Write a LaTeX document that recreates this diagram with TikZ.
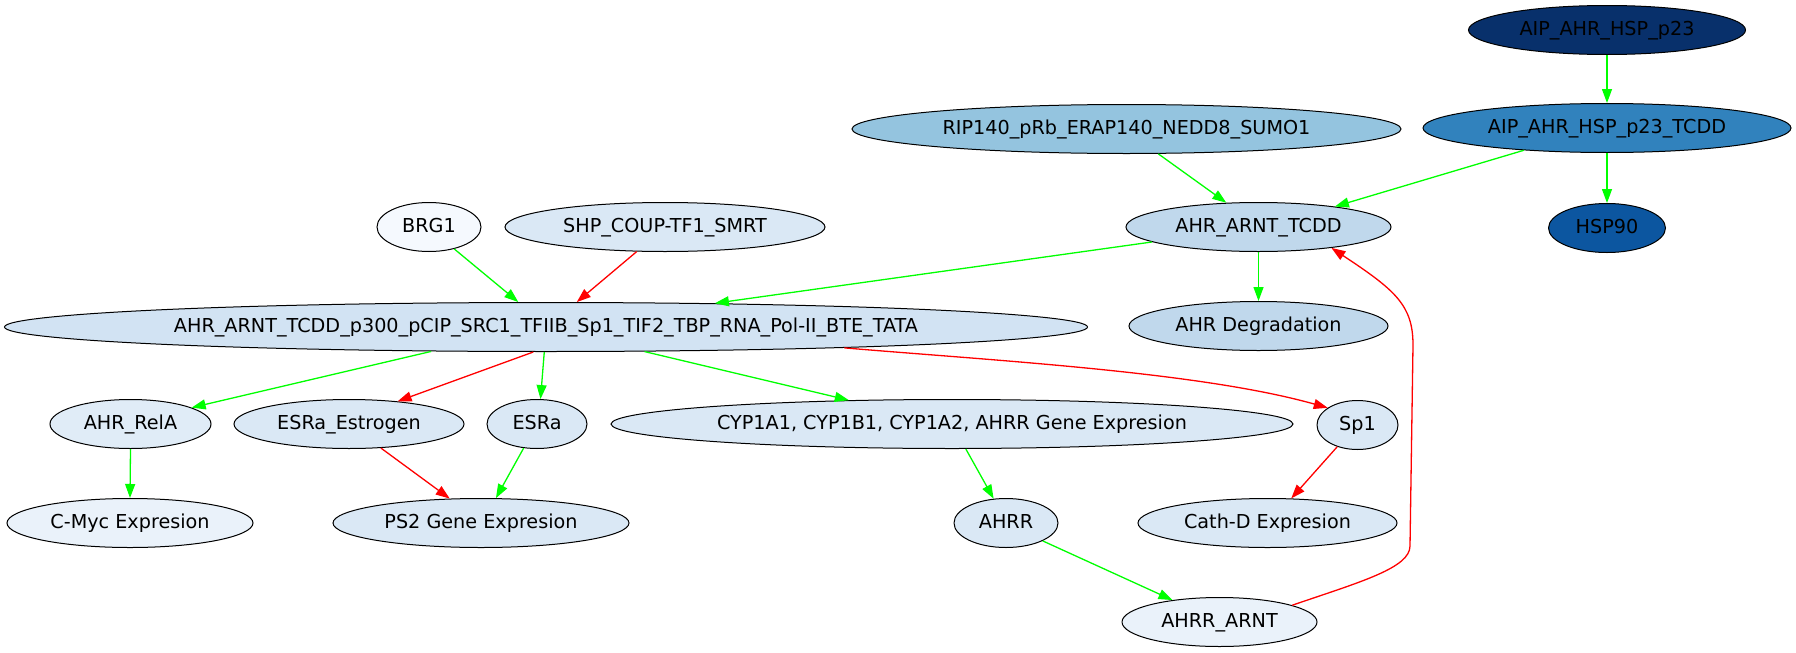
\documentclass[tikz,border=0pt]{standalone}
\usepackage{fontspec}
\setmainfont{DejaVu Sans}
\usetikzlibrary{shapes.geometric,arrows.meta}
\definecolor{cAIP}{HTML}{08306B}
\definecolor{cAIPT}{HTML}{3182BD}
\definecolor{cHSP}{HTML}{0C56A0}
\definecolor{cRIP}{HTML}{94C4DF}
\definecolor{cARNT}{HTML}{C0D8EC}
\definecolor{cMain}{HTML}{D2E3F3}
\definecolor{cMid}{HTML}{DAE8F5}
\definecolor{cRelA}{HTML}{E0ECF7}
\definecolor{cLight}{HTML}{EAF2FA}
\definecolor{cBRG}{HTML}{F5F9FE}
\definecolor{edgegreen}{HTML}{00FF00}
\definecolor{edgered}{HTML}{FF0000}
\begin{document}
\begin{tikzpicture}[x=1pt,y=1pt,
  nd/.style={ellipse,draw=black,line width=1pt,inner sep=0pt,minimum height=49pt,
    text height=16pt,text depth=5pt,
    font=\fontsize{19.2}{22}\selectfont},
  ge/.style={draw=edgegreen,line width=1.3pt,-{Triangle[length=14pt,width=10pt]}},
  re/.style={draw=edgered,line width=1.3pt,-{Triangle[length=14pt,width=10pt]}}]
\useasboundingbox (0,0) rectangle (1796,-653);
\fill[white] (0,0) rectangle (1796,-653);
% row 1
\node[nd,fill=cAIP,minimum width=277pt] (aip) at (1607,-30) {\makebox[0pt]{AIP\_AHR\_HSP\_p23}};
% row 2
\node[nd,fill=cRIP,minimum width=549pt] (rip) at (1126.5,-129) {\makebox[0pt]{RIP140\_pRb\_ERAP140\_NEDD8\_SUMO1}};
\node[nd,fill=cAIPT,minimum width=368pt] (aipt) at (1607,-128) {\makebox[0pt]{AIP\_AHR\_HSP\_p23\_TCDD}};
% row 3
\node[nd,fill=cBRG,minimum width=104pt] (brg) at (429,-227) {\makebox[0pt]{BRG1}};
\node[nd,fill=cMid,minimum width=320pt] (shp) at (665,-227) {\makebox[0pt]{SHP\_COUP-TF1\_SMRT}};
\node[nd,fill=cARNT,minimum width=265pt] (tcdd) at (1258.5,-227) {\makebox[0pt]{AHR\_ARNT\_TCDD}};
\node[nd,fill=cHSP,minimum width=117pt] (hsp) at (1607,-228) {\makebox[0pt]{HSP90}};
% row 4
\node[nd,fill=cMain,minimum width=1083pt] (main) at (546,-327) {\makebox[0pt]{AHR\_ARNT\_TCDD\_p300\_pCIP\_SRC1\_TFIIB\_Sp1\_TIF2\_TBP\_RNA\_Pol-II\_BTE\_TATA}};
\node[nd,fill=cARNT,minimum width=259pt] (deg) at (1258.5,-326) {\makebox[0pt]{AHR Degradation}};
% row 5
\node[nd,fill=cRelA,minimum width=161pt] (rela) at (130.5,-424) {\makebox[0pt]{AHR\_RelA}};
\node[nd,fill=cMid,minimum width=230pt] (esre) at (349,-424) {\makebox[0pt]{ESRa\_Estrogen}};
\node[nd,fill=cMid,minimum width=100pt] (esra) at (537,-424) {\makebox[0pt]{ESRa}};
\node[nd,fill=cMid,minimum width=682pt] (cyp) at (952,-424) {\makebox[0pt]{CYP1A1, CYP1B1, CYP1A2, AHRR Gene Expresion}};
\node[nd,fill=cMid,minimum width=81pt] (sp1) at (1357.5,-425) {\makebox[0pt]{Sp1}};
% row 6
\node[nd,fill=cLight,minimum width=246pt] (cmyc) at (130,-523) {\makebox[0pt]{C-Myc Expresion}};
\node[nd,fill=cMid,minimum width=296pt] (ps2) at (481,-523) {\makebox[0pt]{PS2 Gene Expresion}};
\node[nd,fill=cMid,minimum width=104pt] (ahrr) at (1006,-523) {\makebox[0pt]{AHRR}};
\node[nd,fill=cMid,minimum width=259pt] (cath) at (1267.5,-523) {\makebox[0pt]{Cath-D Expresion}};
% row 7
\node[nd,fill=cLight,minimum width=195pt] (arnt) at (1219.5,-622) {\makebox[0pt]{AHRR\_ARNT}};
% edges
\draw[ge] (aip.south) -- (aipt.north);
\draw[ge] (aipt.south) -- (hsp.north);
\draw[ge] (aipt.195.5) -- (tcdd.15.2);
\draw[ge] (rip.-38.4) -- (tcdd.143.9);
\draw[ge] (tcdd.south) -- (deg.north);
\draw[ge] (tcdd.188.5) -- (main.8.4);
\draw[ge] (brg.-41.5) -- (main.138.2);
\draw[re] (shp.-139.2) -- (main.39.8);
\draw[ge] (main.192.5) -- (rela.15.1);
\draw[re] (main.243) -- (esre.25.6);
\draw[ge] (main.-94.6) -- (esra.82.6);
\draw[ge] (main.-14) -- (cyp.167.2);
\draw[re] (main.-4.5) .. controls (1000,-361) and (1200,-372) .. (sp1.150);
\draw[ge] (rela.south) -- (cmyc.north);
\draw[re] (esre.-37.1) -- (ps2.142.3);
\draw[ge] (esra.-119.2) -- (ps2.59.7);
\draw[ge] (cyp.-61.7) -- (ahrr.117.6);
\draw[re] (sp1.-133) -- (cath.46.8);
\draw[ge] (ahrr.-26) -- (arnt.155.7);
\draw[re] (arnt.13.9) .. controls (1360,-582) and (1410,-568) .. (1410,-546)
  -- (1413,-345) .. controls (1413,-305) and (1395,-290) .. (tcdd.-16.4);
\end{tikzpicture}
\end{document}
